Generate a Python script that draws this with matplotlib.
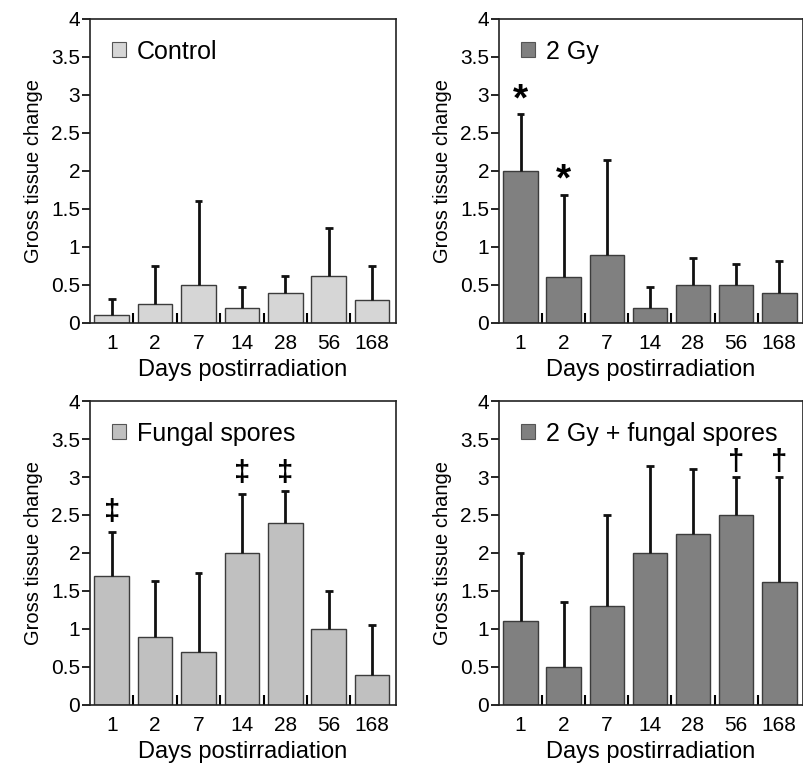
import numpy as np
import matplotlib
matplotlib.use("Agg")
import matplotlib.pyplot as plt
from matplotlib.patches import Patch
from matplotlib.ticker import FuncFormatter

plt.rcParams['font.family'] = ['Liberation Sans', 'DejaVu Sans']

days = ['1', '2', '7', '14', '28', '56', '168']

control = [0.1, 0.25, 0.5, 0.2, 0.4, 0.62, 0.3]
control_top = [0.32, 0.75, 1.61, 0.47, 0.62, 1.25, 0.75]

gy2 = [2.0, 0.6, 0.9, 0.2, 0.5, 0.5, 0.4]
gy2_top = [2.75, 1.68, 2.14, 0.47, 0.86, 0.77, 0.81]

fungal = [1.7, 0.9, 0.7, 2.0, 2.4, 1.0, 0.4]
fungal_top = [2.27, 1.63, 1.74, 2.78, 2.82, 1.5, 1.05]

gy2_fungal = [1.1, 0.5, 1.3, 2.0, 2.25, 2.5, 1.62]
gy2_fungal_top = [2.0, 1.36, 2.5, 3.15, 3.11, 3.0, 3.0]

# significance marks: (bar index, symbol, y position)
marks_gy2 = [(0, '*', 2.93), (1, '*', 1.88)]
marks_fungal = [(0, '‡', 2.54), (3, '‡', 3.05), (4, '‡', 3.05)]
marks_combo = [(5, '†', 3.2), (6, '†', 3.2)]

panels = [
    ('Control', control, control_top, '#d6d6d6', []),
    ('2 Gy', gy2, gy2_top, '#808080', marks_gy2),
    ('Fungal spores', fungal, fungal_top, '#c0c0c0', marks_fungal),
    ('2 Gy + fungal spores', gy2_fungal, gy2_fungal_top, '#808080', marks_combo),
]

W, H = 804, 764
fig = plt.figure(figsize=(W / 100, H / 100), dpi=100)

# axes boxes in pixels: left, right, top, bottom
boxes = [(90, 396, 19, 323), (499, 803, 19, 323),
         (90, 396, 401, 705), (499, 803, 401, 705)]

for (name, vals, tops, color, marks), (l, r, t, b) in zip(panels, boxes):
    ax = fig.add_axes([l / W, 1 - b / H, (r - l) / W, (b - t) / H])
    x = np.arange(len(days))
    ax.bar(x, vals, width=0.8, color=color, edgecolor='#3c3c3c',
           linewidth=1.0, zorder=2)
    # upper error bars only
    ax.vlines(x, vals, tops, color='#111111', linewidth=2.0, zorder=3)
    ax.hlines(tops, x - 0.09, x + 0.09, color='#111111', linewidth=2.0,
              zorder=3)
    for i, sym, y in marks:
        fs = 28 if sym == '*' else 21
        ax.text(i, y, sym, ha='center', va='center', fontsize=fs,
                fontweight='bold')

    ax.set_xlim(-0.5, 6.55)
    ax.set_ylim(0, 4)
    ax.set_yticks(np.arange(0, 4.01, 0.5))
    ax.yaxis.set_major_formatter(FuncFormatter(lambda v, p: '%g' % v))
    ax.set_xticks(x)
    ax.set_xticklabels(days)
    ax.set_xticks(np.arange(0.5, 6, 1), minor=True)
    ax.tick_params(axis='x', which='major', length=0, pad=8, labelsize=15)
    ax.tick_params(axis='x', which='minor', direction='in', length=7,
                   width=1.5)
    ax.tick_params(axis='y', which='major', direction='out', length=6,
                   width=1.2, pad=1, labelsize=15)
    for s in ax.spines.values():
        s.set_linewidth(1.2)
        s.set_color('#222222')
    ax.set_xlabel('Days postirradiation', fontsize=17, labelpad=4)
    ax.set_ylabel('Gross tissue change', fontsize=14.5, labelpad=6)
    ax.legend(handles=[Patch(facecolor=color, edgecolor='#555555',
                             linewidth=0.8)],
              labels=[name], loc='upper left', frameon=False, fontsize=18,
              handlelength=0.55, handleheight=0.55, handletextpad=0.45,
              borderpad=0, borderaxespad=0,
              bbox_to_anchor=(0.072, 0.932))

fig.savefig('out.png', dpi=100)
